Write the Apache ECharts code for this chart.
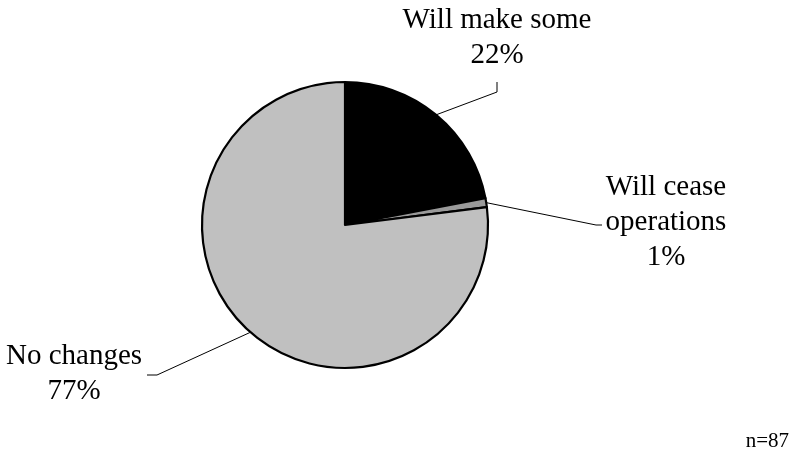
<!DOCTYPE html>
<html>
<head>
<meta charset="utf-8">
<script src="https://cdn.jsdelivr.net/npm/echarts@6/dist/echarts.min.js"></script>
<style>
  html, body { margin: 0; padding: 0; background: #fff; }
  #chart { width: 792px; height: 453px; }
</style>
</head>
<body>
<div id="chart"></div>
<script>
// Survey responses, share of respondents (%)
const categories = ['Will make some', 'Will cease\noperations', 'No changes'];
const values = [22, 1, 77];
const sliceColors = ['#000000', '#9a9a9a', '#c0c0c0'];
const sampleNote = 'n=87';

const FONT = '"Liberation Serif", "Times New Roman", serif';

// Label anchor (text centre) and label-line bends for each slice
const labelSpots = [
  { x: 497, y: 38, bends: [[497, 92], [497, 82]] },
  { x: 666, y: 222, bends: [[596, 225], [602, 225]] },
  { x: 74, y: 374, bends: [[157, 375], [147, 375]] }
];

const chart = echarts.init(document.getElementById('chart'), null, { renderer: 'canvas' });

chart.setOption({
  animation: false,
  backgroundColor: '#ffffff',
  graphic: [{
    type: 'text',
    right: 3,
    bottom: 1,
    style: { text: sampleNote, font: '21px ' + FONT, fill: '#000' }
  }],
  series: [{
    type: 'pie',
    center: [345, 225],
    radius: 143,
    startAngle: 90,
    clockwise: true,
    avoidLabelOverlap: false,
    data: categories.map((name, i) => ({
      name: name,
      value: values[i],
      itemStyle: { color: sliceColors[i] }
    })),
    itemStyle: { borderColor: '#000', borderWidth: 2.2 },
    label: {
      show: true,
      formatter: p => p.name + '\n' + p.value + '%',
      fontFamily: FONT,
      fontSize: 29,
      lineHeight: 35,
      color: '#000',
      align: 'center'
    },
    labelLine: {
      show: true,
      lineStyle: { color: '#000', width: 1 }
    },
    labelLayout: function (params) {
      const s = labelSpots[params.dataIndex];
      const start = params.labelLinePoints ? params.labelLinePoints[0] : s.bends[0];
      return {
        x: s.x,
        y: s.y,
        align: 'center',
        verticalAlign: 'middle',
        labelLinePoints: [start, s.bends[0], s.bends[1]]
      };
    },
    emphasis: { disabled: true }
  }]
});
</script>
</body>
</html>
